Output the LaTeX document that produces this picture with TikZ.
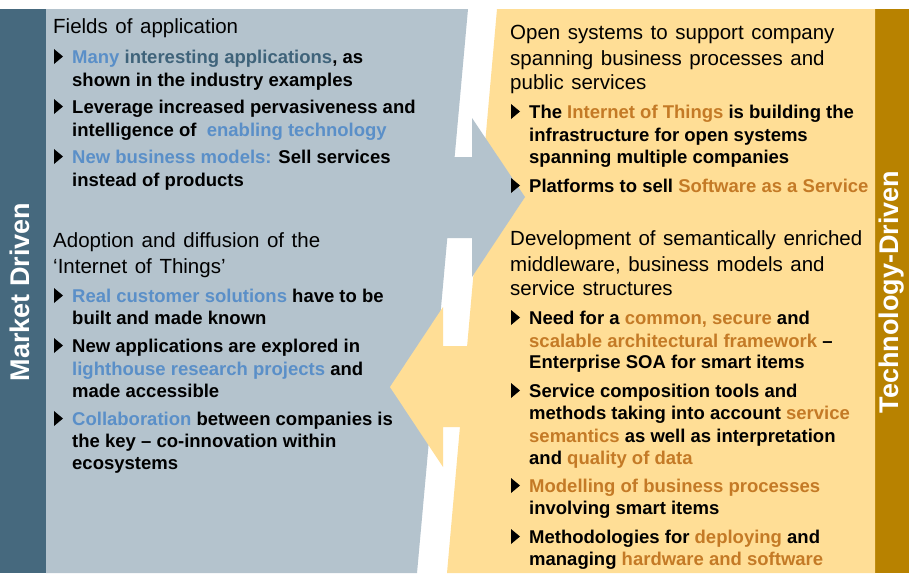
\documentclass[tikz,border=0pt]{standalone}
\usepackage{fontspec}
\setmainfont{Liberation Sans}
\usetikzlibrary{calc,positioning}
\definecolor{barblue}{RGB}{70,105,126}
\definecolor{panelgray}{RGB}{180,195,205}
\definecolor{panelyellow}{RGB}{255,222,150}
\definecolor{bargold}{RGB}{184,130,0}
\definecolor{hiblue}{RGB}{90,143,200}
\definecolor{hidark}{RGB}{63,99,122}
\definecolor{hiorange}{RGB}{196,122,38}
\newcommand\hb[1]{\textcolor{hiblue}{#1}}
\newcommand\hd[1]{\textcolor{hidark}{#1}}
\newcommand\ho[1]{\textcolor{hiorange}{#1}}
\newcommand\widespaces{\spaceskip 0.37em\relax}
\tikzset{
  heading/.style={anchor=base west, inner sep=0pt, font={\fontsize{20.5}{25}\selectfont\widespaces}},
  item/.style={anchor=base west, inner sep=0pt, font={\bfseries\fontsize{18.5}{22}\selectfont}},
  sidelabel/.style={rotate=90, text=white, inner sep=0pt, font={\bfseries\fontsize{27}{32}\selectfont}},
}

\begin{document}
\begin{tikzpicture}[x=1pt,y=-1pt]
  %--------------------------------------------
  % Canvas
  %--------------------------------------------
  \useasboundingbox (0,0) rectangle (909,573);
  \fill[white] (0,0) rectangle (909,573);

  %--------------------------------------------
  % Side bars
  %--------------------------------------------
  \fill[barblue] (0,9) rectangle (46,573);
  \fill[bargold] (875,9) rectangle (909,573);
  \node[sidelabel] (market) at (20,292) {Market Driven};
  \node[sidelabel] (techno) at (892,292) {Technology-Driven};

  %--------------------------------------------
  % Panels with slanted edges
  %--------------------------------------------
  \fill[panelgray] (46,9) -- (468,9) -- (417,573) -- (46,573) -- cycle;
  \fill[panelyellow] (497,9) -- (875,9) -- (875,573) -- (447,573) -- cycle;

  % gray arrow pointing right
  \fill[panelgray] (440,157) -- (472,157) -- (472,118) -- (525,197)
    -- (472,277) -- (472,238) -- (440,238) -- cycle;
  % yellow arrow pointing left
  \fill[panelyellow] (480,346) -- (443,346) -- (443,307) -- (390,387)
    -- (443,467) -- (443,427) -- (480,427) -- cycle;

  %--------------------------------------------
  % Left panel text
  %--------------------------------------------
  \node[heading] (fields) at (53,33) {Fields of application};
  \node[item] (many) at (72,63) {\hb{Many} \hd{interesting applications}, as};
  \node[item] (many2) at (72,86) {shown in the industry examples};
  \node[item] (leverage) at (72,113) {Leverage increased pervasiveness and};
  \node[item] (leverage2) at (72,136) {intelligence of \ \hb{enabling technology}};
  \node[item] (newbiz) at (72,163) {\hb{New business models:} Sell services};
  \node[item] (newbiz2) at (72,186) {instead of products};

  \node[heading] (adoption) at (53,247) {Adoption and diffusion of the};
  \node[heading] (adoption2) at (53,273) {‘Internet of Things’};
  \node[item] (real) at (72,302) {\hb{Real customer solutions} have to be};
  \node[item] (real2) at (72,324) {built and made known};
  \node[item] (explore) at (72,352) {New applications are explored in};
  \node[item] (explore2) at (72,375) {\hb{lighthouse research projects} and};
  \node[item] (explore3) at (72,397) {made accessible};
  \node[item] (collab) at (72,425) {\hb{Collaboration} between companies is};
  \node[item] (collab2) at (72,447) {the key – co-innovation within};
  \node[item] (collab3) at (72,469) {ecosystems};

  %--------------------------------------------
  % Right panel text
  %--------------------------------------------
  \node[heading] (open) at (510,39) {Open systems to support company};
  \node[heading] (open2) at (510,65) {spanning business processes and};
  \node[heading] (open3) at (510,89) {public services};
  \node[item] (iot) at (529,118) {The \ho{Internet of Things} is building the};
  \node[item] (iot2) at (529,141) {infrastructure for open systems};
  \node[item] (iot3) at (529,163) {spanning multiple companies};
  \node[item] (saas) at (529,192) {Platforms to sell \ho{Software as a Service}};

  \node[heading] (devel) at (510,245) {Development of semantically enriched};
  \node[heading] (devel2) at (510,271) {middleware, business models and};
  \node[heading] (devel3) at (510,295) {service structures};
  \node[item] (need) at (529,324) {Need for a \ho{common, secure} and};
  \node[item] (need2) at (529,347) {\ho{scalable architectural framework} –};
  \node[item] (need3) at (529,368) {Enterprise SOA for smart items};
  \node[item] (compose) at (529,397) {Service composition tools and};
  \node[item] (compose2) at (529,419) {methods taking into account \ho{service}};
  \node[item] (compose3) at (529,442) {\ho{semantics} as well as interpretation};
  \node[item] (compose4) at (529,464) {and \ho{quality of data}};
  \node[item] (model) at (529,492) {\ho{Modelling of business processes}};
  \node[item] (model2) at (529,514) {involving smart items};
  \node[item] (method) at (529,543) {Methodologies for \ho{deploying} and};
  \node[item] (method2) at (529,565) {managing \ho{hardware and software}};

  %--------------------------------------------
  % Bullet triangles
  %--------------------------------------------
  \foreach \n in {many,leverage,newbiz,real,explore,collab,iot,saas,need,compose,model,method}{
    \fill (\n.base west) ++(-18,1) -- ++(0,-15) -- ++(9,7.5) -- cycle;
  }
\end{tikzpicture}
\end{document}
